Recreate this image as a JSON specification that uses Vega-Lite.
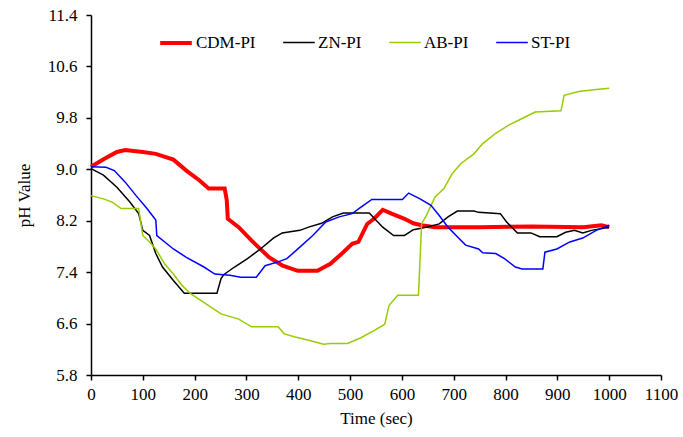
{
  "$schema": "https://vega.github.io/schema/vega-lite/v6.json",
  "autosize": {"type": "none"},
  "padding": {"left": 91, "top": 15, "right": 22, "bottom": 62},
  "width": 570,
  "height": 360,
  "background": "white",
  "config": {
    "font": "Liberation Serif",
    "view": {"stroke": null},
    "legend": {"labelFont": "Liberation Serif"},
    "axis": {"labelFont": "Liberation Serif", "titleFont": "Liberation Serif", "labelFontSize": 17, "titleFontSize": 17, "titleFontWeight": "normal", "labelColor": "black", "titleColor": "black", "domainColor": "black", "tickColor": "black", "grid": false, "tickSize": 5, "domainWidth": 1.5, "tickWidth": 1.5}
  },
  "datasets": {
    "d": [
      {"t":0,"ph":9.04,"s":"CDM-PI"},{"t":25,"ph":9.16,"s":"CDM-PI"},{"t":50,"ph":9.27,"s":"CDM-PI"},{"t":66,"ph":9.30,"s":"CDM-PI"},{"t":100,"ph":9.27,"s":"CDM-PI"},{"t":125,"ph":9.24,"s":"CDM-PI"},{"t":159,"ph":9.15,"s":"CDM-PI"},{"t":184,"ph":8.98,"s":"CDM-PI"},{"t":209,"ph":8.83,"s":"CDM-PI"},{"t":227,"ph":8.70,"s":"CDM-PI"},{"t":258,"ph":8.70,"s":"CDM-PI"},{"t":262,"ph":8.52,"s":"CDM-PI"},{"t":264,"ph":8.23,"s":"CDM-PI"},{"t":285,"ph":8.10,"s":"CDM-PI"},{"t":310,"ph":7.89,"s":"CDM-PI"},{"t":344,"ph":7.63,"s":"CDM-PI"},{"t":370,"ph":7.50,"s":"CDM-PI"},{"t":399,"ph":7.42,"s":"CDM-PI"},{"t":437,"ph":7.42,"s":"CDM-PI"},{"t":462,"ph":7.53,"s":"CDM-PI"},{"t":487,"ph":7.71,"s":"CDM-PI"},{"t":504,"ph":7.84,"s":"CDM-PI"},{"t":516,"ph":7.87,"s":"CDM-PI"},{"t":533,"ph":8.15,"s":"CDM-PI"},{"t":546,"ph":8.23,"s":"CDM-PI"},{"t":563,"ph":8.37,"s":"CDM-PI"},{"t":580,"ph":8.31,"s":"CDM-PI"},{"t":605,"ph":8.23,"s":"CDM-PI"},{"t":622,"ph":8.16,"s":"CDM-PI"},{"t":638,"ph":8.13,"s":"CDM-PI"},{"t":664,"ph":8.10,"s":"CDM-PI"},{"t":750,"ph":8.10,"s":"CDM-PI"},{"t":850,"ph":8.11,"s":"CDM-PI"},{"t":950,"ph":8.10,"s":"CDM-PI"},{"t":985,"ph":8.13,"s":"CDM-PI"},{"t":1000,"ph":8.10,"s":"CDM-PI"},

      {"t":0,"ph":9.01,"s":"ZN-PI"},{"t":24,"ph":8.91,"s":"ZN-PI"},{"t":50,"ph":8.72,"s":"ZN-PI"},{"t":75,"ph":8.49,"s":"ZN-PI"},{"t":92,"ph":8.31,"s":"ZN-PI"},{"t":100,"ph":8.05,"s":"ZN-PI"},{"t":113,"ph":7.97,"s":"ZN-PI"},{"t":125,"ph":7.69,"s":"ZN-PI"},{"t":138,"ph":7.48,"s":"ZN-PI"},{"t":159,"ph":7.27,"s":"ZN-PI"},{"t":180,"ph":7.07,"s":"ZN-PI"},{"t":243,"ph":7.07,"s":"ZN-PI"},{"t":251,"ph":7.30,"s":"ZN-PI"},{"t":256,"ph":7.36,"s":"ZN-PI"},{"t":277,"ph":7.48,"s":"ZN-PI"},{"t":302,"ph":7.61,"s":"ZN-PI"},{"t":327,"ph":7.76,"s":"ZN-PI"},{"t":352,"ph":7.93,"s":"ZN-PI"},{"t":369,"ph":8.01,"s":"ZN-PI"},{"t":403,"ph":8.05,"s":"ZN-PI"},{"t":420,"ph":8.10,"s":"ZN-PI"},{"t":445,"ph":8.16,"s":"ZN-PI"},{"t":466,"ph":8.26,"s":"ZN-PI"},{"t":487,"ph":8.32,"s":"ZN-PI"},{"t":537,"ph":8.32,"s":"ZN-PI"},{"t":563,"ph":8.10,"s":"ZN-PI"},{"t":584,"ph":7.97,"s":"ZN-PI"},{"t":605,"ph":7.97,"s":"ZN-PI"},{"t":622,"ph":8.06,"s":"ZN-PI"},{"t":647,"ph":8.10,"s":"ZN-PI"},{"t":672,"ph":8.15,"s":"ZN-PI"},{"t":689,"ph":8.26,"s":"ZN-PI"},{"t":707,"ph":8.35,"s":"ZN-PI"},{"t":739,"ph":8.35,"s":"ZN-PI"},{"t":748,"ph":8.33,"s":"ZN-PI"},{"t":790,"ph":8.31,"s":"ZN-PI"},{"t":802,"ph":8.18,"s":"ZN-PI"},{"t":823,"ph":8.01,"s":"ZN-PI"},{"t":849,"ph":8.01,"s":"ZN-PI"},{"t":866,"ph":7.95,"s":"ZN-PI"},{"t":899,"ph":7.95,"s":"ZN-PI"},{"t":916,"ph":8.02,"s":"ZN-PI"},{"t":933,"ph":8.05,"s":"ZN-PI"},{"t":949,"ph":8.01,"s":"ZN-PI"},{"t":966,"ph":8.05,"s":"ZN-PI"},{"t":1000,"ph":8.10,"s":"ZN-PI"},

      {"t":0,"ph":8.59,"s":"AB-PI"},{"t":24,"ph":8.54,"s":"AB-PI"},{"t":41,"ph":8.49,"s":"AB-PI"},{"t":58,"ph":8.39,"s":"AB-PI"},{"t":92,"ph":8.39,"s":"AB-PI"},{"t":100,"ph":7.97,"s":"AB-PI"},{"t":113,"ph":7.87,"s":"AB-PI"},{"t":125,"ph":7.76,"s":"AB-PI"},{"t":142,"ph":7.53,"s":"AB-PI"},{"t":159,"ph":7.37,"s":"AB-PI"},{"t":176,"ph":7.19,"s":"AB-PI"},{"t":193,"ph":7.06,"s":"AB-PI"},{"t":227,"ph":6.88,"s":"AB-PI"},{"t":251,"ph":6.75,"s":"AB-PI"},{"t":285,"ph":6.67,"s":"AB-PI"},{"t":310,"ph":6.55,"s":"AB-PI"},{"t":361,"ph":6.55,"s":"AB-PI"},{"t":373,"ph":6.44,"s":"AB-PI"},{"t":394,"ph":6.39,"s":"AB-PI"},{"t":420,"ph":6.34,"s":"AB-PI"},{"t":449,"ph":6.28,"s":"AB-PI"},{"t":462,"ph":6.29,"s":"AB-PI"},{"t":495,"ph":6.29,"s":"AB-PI"},{"t":521,"ph":6.38,"s":"AB-PI"},{"t":546,"ph":6.49,"s":"AB-PI"},{"t":567,"ph":6.59,"s":"AB-PI"},{"t":575,"ph":6.88,"s":"AB-PI"},{"t":592,"ph":7.04,"s":"AB-PI"},{"t":632,"ph":7.04,"s":"AB-PI"},{"t":638,"ph":8.15,"s":"AB-PI"},{"t":647,"ph":8.28,"s":"AB-PI"},{"t":664,"ph":8.57,"s":"AB-PI"},{"t":681,"ph":8.70,"s":"AB-PI"},{"t":697,"ph":8.93,"s":"AB-PI"},{"t":714,"ph":9.09,"s":"AB-PI"},{"t":739,"ph":9.24,"s":"AB-PI"},{"t":756,"ph":9.40,"s":"AB-PI"},{"t":781,"ph":9.56,"s":"AB-PI"},{"t":807,"ph":9.69,"s":"AB-PI"},{"t":832,"ph":9.79,"s":"AB-PI"},{"t":857,"ph":9.89,"s":"AB-PI"},{"t":907,"ph":9.91,"s":"AB-PI"},{"t":913,"ph":10.15,"s":"AB-PI"},{"t":941,"ph":10.21,"s":"AB-PI"},{"t":975,"ph":10.24,"s":"AB-PI"},{"t":1000,"ph":10.26,"s":"AB-PI"},

      {"t":0,"ph":9.04,"s":"ST-PI"},{"t":29,"ph":9.03,"s":"ST-PI"},{"t":45,"ph":8.98,"s":"ST-PI"},{"t":66,"ph":8.80,"s":"ST-PI"},{"t":87,"ph":8.59,"s":"ST-PI"},{"t":108,"ph":8.39,"s":"ST-PI"},{"t":125,"ph":8.21,"s":"ST-PI"},{"t":127,"ph":7.97,"s":"ST-PI"},{"t":159,"ph":7.76,"s":"ST-PI"},{"t":184,"ph":7.63,"s":"ST-PI"},{"t":218,"ph":7.48,"s":"ST-PI"},{"t":239,"ph":7.37,"s":"ST-PI"},{"t":268,"ph":7.35,"s":"ST-PI"},{"t":289,"ph":7.32,"s":"ST-PI"},{"t":319,"ph":7.32,"s":"ST-PI"},{"t":336,"ph":7.50,"s":"ST-PI"},{"t":361,"ph":7.56,"s":"ST-PI"},{"t":378,"ph":7.61,"s":"ST-PI"},{"t":403,"ph":7.79,"s":"ST-PI"},{"t":428,"ph":7.97,"s":"ST-PI"},{"t":453,"ph":8.18,"s":"ST-PI"},{"t":479,"ph":8.26,"s":"ST-PI"},{"t":504,"ph":8.31,"s":"ST-PI"},{"t":521,"ph":8.41,"s":"ST-PI"},{"t":542,"ph":8.53,"s":"ST-PI"},{"t":601,"ph":8.53,"s":"ST-PI"},{"t":613,"ph":8.63,"s":"ST-PI"},{"t":635,"ph":8.54,"s":"ST-PI"},{"t":656,"ph":8.44,"s":"ST-PI"},{"t":672,"ph":8.28,"s":"ST-PI"},{"t":689,"ph":8.10,"s":"ST-PI"},{"t":707,"ph":7.95,"s":"ST-PI"},{"t":723,"ph":7.82,"s":"ST-PI"},{"t":748,"ph":7.76,"s":"ST-PI"},{"t":756,"ph":7.70,"s":"ST-PI"},{"t":781,"ph":7.69,"s":"ST-PI"},{"t":798,"ph":7.61,"s":"ST-PI"},{"t":819,"ph":7.48,"s":"ST-PI"},{"t":832,"ph":7.45,"s":"ST-PI"},{"t":872,"ph":7.45,"s":"ST-PI"},{"t":876,"ph":7.71,"s":"ST-PI"},{"t":899,"ph":7.76,"s":"ST-PI"},{"t":924,"ph":7.87,"s":"ST-PI"},{"t":949,"ph":7.93,"s":"ST-PI"},{"t":975,"ph":8.05,"s":"ST-PI"},{"t":1000,"ph":8.13,"s":"ST-PI"}
    ]
  },
  "data": {"name": "d"},
  "mark": {"type": "line", "interpolate": "linear"},
  "encoding": {
    "x": {"field": "t", "type": "quantitative", "title": "Time (sec)",
      "scale": {"domain": [0, 1100], "nice": false},
      "axis": {"values": [0,100,200,300,400,500,600,700,800,900,1000,1100], "format": "d", "labelPadding": 6, "titlePadding": 8, "labelFlush": false}},
    "y": {"field": "ph", "type": "quantitative", "title": "pH Value",
      "scale": {"domain": [5.8, 11.4], "nice": false, "zero": false},
      "axis": {"values": [5.8,6.6,7.4,8.2,9.0,9.8,10.6,11.4], "format": ".1f", "labelPadding": 9, "titlePadding": 14}},
    "color": {"field": "s", "type": "nominal", "title": null,
      "scale": {"domain": ["CDM-PI","ZN-PI","AB-PI","ST-PI"], "range": ["#ff0000","#000000","#99cc00","#0000ff"]},
      "legend": {"orient": "none", "legendX": 67, "legendY": 10, "direction": "horizontal", "symbolType": "stroke", "symbolSize": 1000, "labelFont": "Liberation Serif", "labelFontSize": 17, "labelColor": "black", "labelOffset": 2, "columnPadding": 24}},
    "strokeWidth": {"field": "s", "type": "nominal", "title": null,
      "scale": {"type": "ordinal", "domain": ["CDM-PI","ZN-PI","AB-PI","ST-PI"], "range": [4, 1.5, 1.5, 1.5]}},
    "order": {"field": "t", "type": "quantitative"}
  }
}
